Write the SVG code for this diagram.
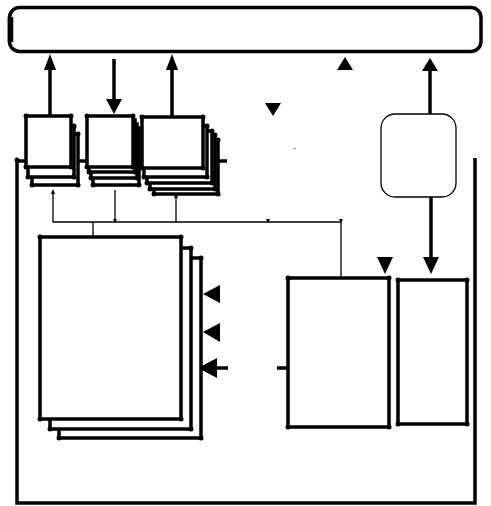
<svg xmlns="http://www.w3.org/2000/svg" width="491" height="506" viewBox="0 0 491 506">
<style>
.b{fill:#fff;stroke:#000;stroke-width:3.5}
.t{fill:none;stroke:#000;stroke-width:3.5}
.n{fill:none;stroke:#000;stroke-width:1.3}
.d{fill:#000}
.h{fill:#000}
</style>
<rect width="491" height="506" fill="#fff"/>

<g id="container">
<path class="t" d="M17,160 V503 H475 V158"/>
<path class="t" d="M17,161 H227" stroke-width="3"/>
<circle class="d" cx="17" cy="160" r="2.5"/>
</g>

<g id="topbar">
<rect x="9.5" y="7.5" width="471.5" height="44" rx="10" class="t" stroke-width="4.5"/>
<line x1="10.5" y1="17" x2="10.5" y2="42" stroke="#000" stroke-width="5.5"/>
</g>

<g id="connectors">
<line class="t" x1="50" y1="69" x2="50" y2="116"/>
<polygon class="h" points="50,54 44,70 56,70"/>
<line class="t" x1="114" y1="59" x2="114" y2="100"/>
<polygon class="h" points="114,114 106,99 122,99"/>
<line class="t" x1="172" y1="69" x2="172" y2="117"/>
<polygon class="h" points="172,54 166,70 178,70"/>
<polygon class="h" points="345,57 337,70 353,70"/>
<line class="t" x1="430" y1="70" x2="430" y2="114"/>
<polygon class="h" points="430,58 422,71 438,71"/>
<polygon class="h" points="273,116 265,103 281,103"/>
<line class="t" x1="431" y1="197" x2="431" y2="258"/>
<polygon class="h" points="431,274 423,257 439,257"/>
<polygon class="h" points="385,274 377,257 393,257"/>
<path class="n" d="M53,194 V222 H341 V278"/>
<polygon class="h" points="53,189 51,194 55,194"/>
<path class="n" d="M115,190 V222"/>
<polygon class="h" points="115,223 113,219 117,219"/>
<path class="n" d="M176,198 V222"/>
<polygon class="h" points="176,193 174,198 178,198"/>
<path class="n" d="M93,222 V237"/>
<polygon class="h" points="268,223 266,219 270,219"/>
<polygon class="h" points="341,223 339,219 343,219"/>
<polygon class="h" points="203,294 220,285 220,303"/>
<polygon class="h" points="203,332 220,323 220,342"/>
<polygon class="h" points="198,368 217,358 217,378"/>
<line class="t" x1="214" y1="368" x2="228" y2="368" stroke-width="4"/>
<line class="t" x1="277" y1="368" x2="288" y2="368" stroke-width="4"/>
</g>

<g id="box1">
<rect class="b" x="32" y="134" width="46" height="51"/>
<circle class="d" cx="32" cy="185" r="2.5"/><circle class="d" cx="78" cy="185" r="2.5"/><circle class="d" cx="78" cy="134" r="2.5"/>
<rect class="b" x="28" y="126" width="46" height="51"/>
<circle class="d" cx="28" cy="177" r="2.5"/><circle class="d" cx="74" cy="177" r="2.5"/><circle class="d" cx="74" cy="126" r="2.5"/>
<rect class="b" x="26" y="116" width="45" height="51"/>
<circle class="d" cx="26" cy="116" r="2.5"/><circle class="d" cx="71" cy="116" r="2.5"/><circle class="d" cx="26" cy="167" r="2.5"/><circle class="d" cx="71" cy="167" r="2.5"/>
</g>

<g id="box2">
<rect class="b" x="93" y="128" width="46" height="57"/>
<circle class="d" cx="93" cy="185" r="2.5"/><circle class="d" cx="139" cy="185" r="2.5"/>
<rect class="b" x="91" y="124" width="46" height="54"/>
<circle class="d" cx="91" cy="178" r="2.5"/><circle class="d" cx="137" cy="178" r="2.5"/>
<rect class="b" x="89" y="120" width="46" height="52"/>
<circle class="d" cx="89" cy="172" r="2.5"/><circle class="d" cx="135" cy="172" r="2.5"/>
<rect class="b" x="87" y="116" width="46" height="51"/>
<circle class="d" cx="87" cy="116" r="2.5"/><circle class="d" cx="133" cy="116" r="2.5"/><circle class="d" cx="87" cy="167" r="2.5"/><circle class="d" cx="133" cy="167" r="2.5"/>
</g>

<g id="box3">
<rect class="b" x="154" y="140" width="64" height="54"/>
<circle class="d" cx="154" cy="194" r="2.5"/><circle class="d" cx="218" cy="194" r="2.5"/><circle class="d" cx="218" cy="140" r="2.5"/>
<rect class="b" x="150" y="135" width="65" height="54"/>
<circle class="d" cx="150" cy="189" r="2.5"/><circle class="d" cx="215" cy="189" r="2.5"/><circle class="d" cx="215" cy="135" r="2.5"/>
<rect class="b" x="147" y="131" width="65" height="52"/>
<circle class="d" cx="147" cy="183" r="2.5"/><circle class="d" cx="212" cy="183" r="2.5"/><circle class="d" cx="212" cy="131" r="2.5"/>
<rect class="b" x="144" y="126" width="63" height="51"/>
<circle class="d" cx="144" cy="177" r="2.5"/><circle class="d" cx="207" cy="177" r="2.5"/><circle class="d" cx="207" cy="126" r="2.5"/>
<rect class="b" x="142" y="117" width="61" height="51"/>
<circle class="d" cx="142" cy="117" r="2.5"/><circle class="d" cx="203" cy="117" r="2.5"/><circle class="d" cx="142" cy="168" r="2.5"/><circle class="d" cx="203" cy="168" r="2.5"/>
</g>

<g id="bigstack">
<rect class="b" x="59" y="258" width="142" height="180"/>
<circle class="d" cx="59" cy="438" r="2.5"/><circle class="d" cx="201" cy="438" r="2.5"/><circle class="d" cx="201" cy="258" r="2.5"/>
<rect class="b" x="50" y="248" width="141" height="181"/>
<circle class="d" cx="50" cy="429" r="2.5"/><circle class="d" cx="191" cy="429" r="2.5"/><circle class="d" cx="191" cy="248" r="2.5"/>
<rect class="b" x="40" y="237" width="141" height="182"/>
<circle class="d" cx="40" cy="237" r="2.5"/><circle class="d" cx="181" cy="237" r="2.5"/><circle class="d" cx="40" cy="419" r="2.5"/><circle class="d" cx="181" cy="419" r="2.5"/>
</g>

<g id="middlebox">
<rect class="b" x="288" y="278" width="101" height="149"/>
<circle class="d" cx="288" cy="278" r="2.5"/><circle class="d" cx="389" cy="278" r="2.5"/><circle class="d" cx="288" cy="427" r="2.5"/><circle class="d" cx="389" cy="427" r="2.5"/>
</g>

<g id="rightbox">
<rect class="b" x="398" y="280" width="69" height="144"/>
<circle class="d" cx="398" cy="280" r="2.5"/><circle class="d" cx="467" cy="280" r="2.5"/><circle class="d" cx="398" cy="424" r="2.5"/><circle class="d" cx="467" cy="424" r="2.5"/>
</g>

<g id="roundnode">
<rect x="381" y="114" width="75" height="83" rx="14" fill="#fff" stroke="#000" stroke-width="1.3"/>
</g>

<g id="tinylabel">
<text x="295" y="150" font-family="Liberation Sans, sans-serif" font-size="7" text-anchor="middle">-</text>
</g>
</svg>
